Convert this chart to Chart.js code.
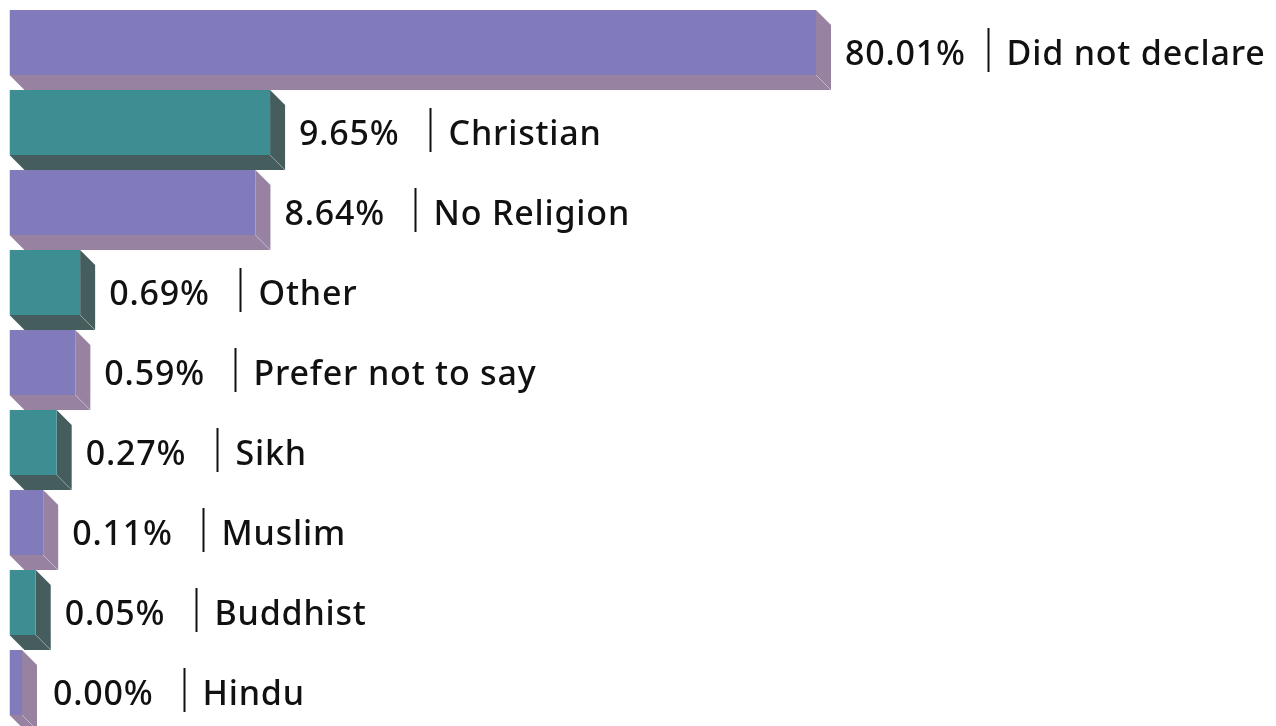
<!DOCTYPE html>
<html>
<head>
<meta charset="utf-8">
<script src="https://cdn.jsdelivr.net/npm/chart.js@4.4.1/dist/chart.umd.min.js"></script>
<style>
  html, body { margin: 0; padding: 0; background: #fff; }
  #wrap { width: 1276px; height: 726px; position: relative; }
</style>
</head>
<body>
<div id="wrap"><canvas id="religion"></canvas></div>
<script>
// religion breakdown, largest first
const religions = ['Did not declare', 'Christian', 'No Religion', 'Other', 'Prefer not to say', 'Sikh', 'Muslim', 'Buddhist', 'Hindu'];
const shares = [80.01, 9.65, 8.64, 0.69, 0.59, 0.27, 0.11, 0.05, 0.00];

const purple = { front: '#817bbb', side: '#9782a1' };
const teal = { front: '#3d8e92', side: '#455d5d' };
const DEPTH = 15;
const FONT = '500 34px "Noto Sans"';

// power scale so the small shares still get a visible block
class PowScale extends Chart.LinearScale {
  getPixelForValue(value) {
    const o = this.options;
    if (value <= this.min) return this.getPixelForDecimal(0);
    const t = Math.pow((value - this.min) / (this.max - this.min), o.exponent);
    return this.getPixelForDecimal(o.stub + (1 - o.stub) * t);
  }
  getValueForPixel(pixel) {
    const o = this.options;
    const d = this.getDecimalForPixel(pixel);
    const t = Math.max(0, (d - o.stub) / (1 - o.stub));
    return this.min + Math.pow(t, 1 / o.exponent) * (this.max - this.min);
  }
}
PowScale.id = 'pow';
PowScale.defaults = Chart.LinearScale.defaults;
Chart.register(PowScale);

const palette = (i) => (i % 2 === 0 ? purple : teal);

// side + bottom faces for the block look
const extrude = {
  id: 'extrude',
  beforeDatasetsDraw(chart) {
    const ctx = chart.ctx;
    chart.getDatasetMeta(0).data.forEach((bar, i) => {
      const x0 = bar.base, x1 = bar.x;
      const y0 = bar.y - bar.height / 2, y1 = bar.y + bar.height / 2;
      const c = palette(i).side;
      ctx.save();
      ctx.fillStyle = c;
      ctx.beginPath();
      ctx.moveTo(x0, y1);
      ctx.lineTo(x1, y1);
      ctx.lineTo(x1 + DEPTH, y1 + DEPTH);
      ctx.lineTo(x0 + DEPTH, y1 + DEPTH);
      ctx.closePath();
      ctx.fill();
      ctx.beginPath();
      ctx.moveTo(x1, y0);
      ctx.lineTo(x1 + DEPTH, y0 + DEPTH);
      ctx.lineTo(x1 + DEPTH, y1 + DEPTH);
      ctx.lineTo(x1, y1);
      ctx.closePath();
      ctx.fill();
      ctx.strokeStyle = 'rgba(255,255,255,0.25)';
      ctx.lineWidth = 1;
      ctx.beginPath();
      ctx.moveTo(x1, y1);
      ctx.lineTo(x1 + DEPTH, y1 + DEPTH);
      ctx.stroke();
      ctx.restore();
    });
  }
};

// "value | category" to the right of each block
const labels = {
  id: 'labels',
  afterDraw(chart) {
    const ctx = chart.ctx;
    ctx.save();
    ctx.font = FONT;
    ctx.letterSpacing = '0.8px';
    ctx.fillStyle = '#111';
    ctx.strokeStyle = '#111';
    ctx.lineWidth = 2;
    ctx.textBaseline = 'alphabetic';
    chart.getDatasetMeta(0).data.forEach((bar, i) => {
      const txt = shares[i].toFixed(2) + '%';
      const vx = Math.max(bar.x + DEPTH + 14, 53);
      const base = bar.y + 22;
      ctx.fillText(txt, vx, base);
      const w = ctx.measureText(txt).width;
      const sx = Math.round(vx + Math.max(131, w + 22)) + 0.5;
      ctx.beginPath();
      ctx.moveTo(sx, bar.y - 14.5);
      ctx.lineTo(sx, bar.y + 29.5);
      ctx.stroke();
      ctx.fillText(religions[i], sx + 18, base);
    });
    ctx.restore();
  }
};

new Chart(document.getElementById('religion'), {
  type: 'bar',
  data: {
    labels: religions,
    datasets: [{
      data: shares,
      backgroundColor: shares.map((_, i) => palette(i).front),
      borderWidth: 0,
      categoryPercentage: 1,
      barPercentage: 65 / 80,
      minBarLength: 12.5
    }]
  },
  options: {
    indexAxis: 'y',
    responsive: true,
    maintainAspectRatio: false,
    animation: false,
    layout: { padding: { top: 2.5, bottom: 3.5, left: 9.5, right: 460 } },
    plugins: { legend: { display: false }, tooltip: { enabled: false } },
    scales: {
      x: { type: 'pow', min: 0, max: 80.01, exponent: 0.55, stub: 0.0155, display: false },
      y: { display: false }
    }
  },
  plugins: [extrude, labels]
});
</script>
</body>
</html>
